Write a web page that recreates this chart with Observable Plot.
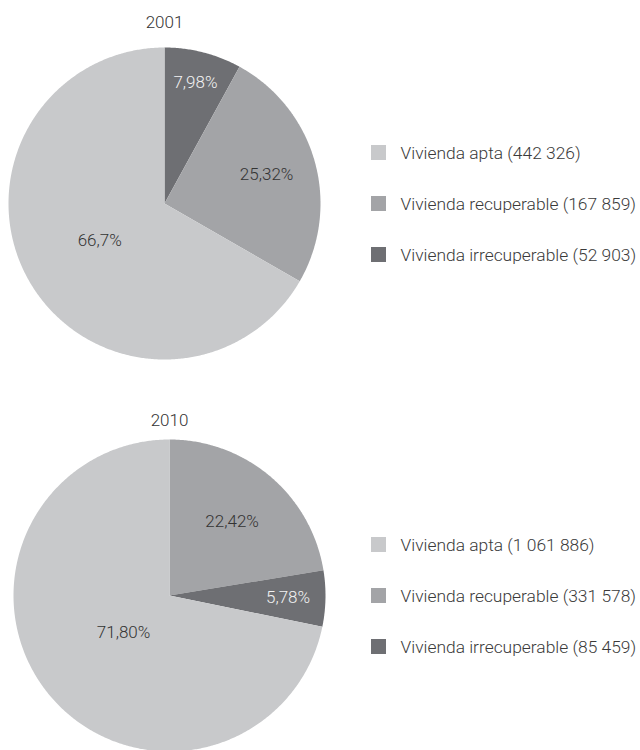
<!DOCTYPE html>
<html>
<head>
<meta charset="utf-8">
<script src="https://cdn.jsdelivr.net/npm/d3@7"></script>
<script src="https://cdn.jsdelivr.net/npm/@observablehq/plot@0.6"></script>
<style>
  html, body { margin: 0; padding: 0; background: #fff; }
  #chart svg { display: block; }
</style>
</head>
<body>
<div id="chart"></div>
<script>
// ---------- DATA ----------
const years = ["2001", "2010"];
const categories = ["Vivienda apta", "Vivienda recuperable", "Vivienda irrecuperable"];
// counts per category (same order as categories)
const counts2001 = [442326, 167859, 52903];
const counts2010 = [1061886, 331578, 85459];
// percentage labels as printed
const pct2001 = [66.7, 25.32, 7.98];
const pct2010 = [71.80, 22.42, 5.78];
const pctLabels2001 = ["66,7%", "25,32%", "7,98%"];
const pctLabels2010 = ["71,80%", "22,42%", "5,78%"];
// clockwise drawing order from 12 o'clock (indices into categories)
const order2001 = [2, 1, 0];
const order2010 = [1, 2, 0];

// ---------- LAYOUT ----------
const W = 640, H = 750;
const FONT = "Roboto, 'Liberation Sans', Arial, sans-serif";
const colors = ["#c8c9cb", "#a3a4a7", "#6e6f73"];
const labelColors = ["#333333", "#333333", "#f2f2f2"];
const pies = [
  {cx: 164, cy: 203, r: 156, titleY: 22, legendY: 152.5, pct: pct2001, labels: pctLabels2001, counts: counts2001, order: order2001, labelR: [0.48, 0.68, 0.80]},
  {cx: 169, cy: 595, r: 156, titleY: 420, legendY: 544.5, pct: pct2010, labels: pctLabels2010, counts: counts2010, order: order2010, labelR: [0.38, 0.62, 0.76]}
];
const legendX = 371, swatch = 15, legendGap = 51, legendTextX = 400;

const fmt = d3.formatLocale({decimal: ",", thousands: " ", grouping: [3], currency: ["", ""]}).format(",d");

// ---------- DERIVED TABLES ----------
const slicePts = [];
const pctText = [];
const titles = [];
const legendRects = [];
const legendText = [];
pies.forEach((p, yi) => {
  titles.push({x: p.cx, y: p.titleY, text: years[yi]});
  let start = 0;
  p.order.forEach(ci => {
    const frac = p.pct[ci] / 100;
    const a0 = start * 2 * Math.PI, a1 = (start + frac) * 2 * Math.PI;
    const key = years[yi] + "-" + ci;
    slicePts.push({key, cat: categories[ci], x: p.cx, y: p.cy});
    const n = Math.max(2, Math.ceil((a1 - a0) / (Math.PI / 360)));
    for (let k = 0; k <= n; k++) {
      const a = a0 + (a1 - a0) * k / n;
      slicePts.push({key, cat: categories[ci], x: p.cx + p.r * Math.sin(a), y: p.cy - p.r * Math.cos(a)});
    }
    slicePts.push({key, cat: categories[ci], x: p.cx, y: p.cy});
    const am = (a0 + a1) / 2, rr = p.r * p.labelR[ci];
    pctText.push({x: p.cx + rr * Math.sin(am), y: p.cy - rr * Math.cos(am), text: p.labels[ci], color: labelColors[ci]});
    start += frac;
  });
  categories.forEach((c, ci) => {
    const yc = p.legendY + ci * legendGap;
    legendRects.push({cat: c, x1: legendX, x2: legendX + swatch, y1: yc - swatch / 2, y2: yc + swatch / 2});
    legendText.push({x: legendTextX, y: yc, text: `${c} (${fmt(p.counts[ci])})`});
  });
});

const chart = Plot.plot({
  width: W,
  height: H,
  margin: 0,
  style: {fontFamily: FONT, background: "#fff"},
  x: {domain: [0, W], range: [0, W], axis: null},
  y: {domain: [0, H], range: [0, H], axis: null},
  color: {domain: categories, range: colors},
  marks: [
    Plot.line(slicePts, {x: "x", y: "y", z: "key", fill: "cat", stroke: "none", curve: "linear-closed"}),
    Plot.text(pctText, {x: "x", y: "y", text: "text", fill: "color", fontSize: 17, fontWeight: 300}),
    Plot.text(titles, {x: "x", y: "y", text: "text", fill: "#333", fontSize: 17, fontWeight: 300}),
    Plot.rect(legendRects, {x1: "x1", x2: "x2", y1: "y1", y2: "y2", fill: "cat"}),
    Plot.text(legendText, {x: "x", y: "y", text: "text", textAnchor: "start", fill: "#3a3a3a", fontSize: 17.4, fontWeight: 300})
  ]
});
document.getElementById("chart").appendChild(chart);
</script>
</body>
</html>
